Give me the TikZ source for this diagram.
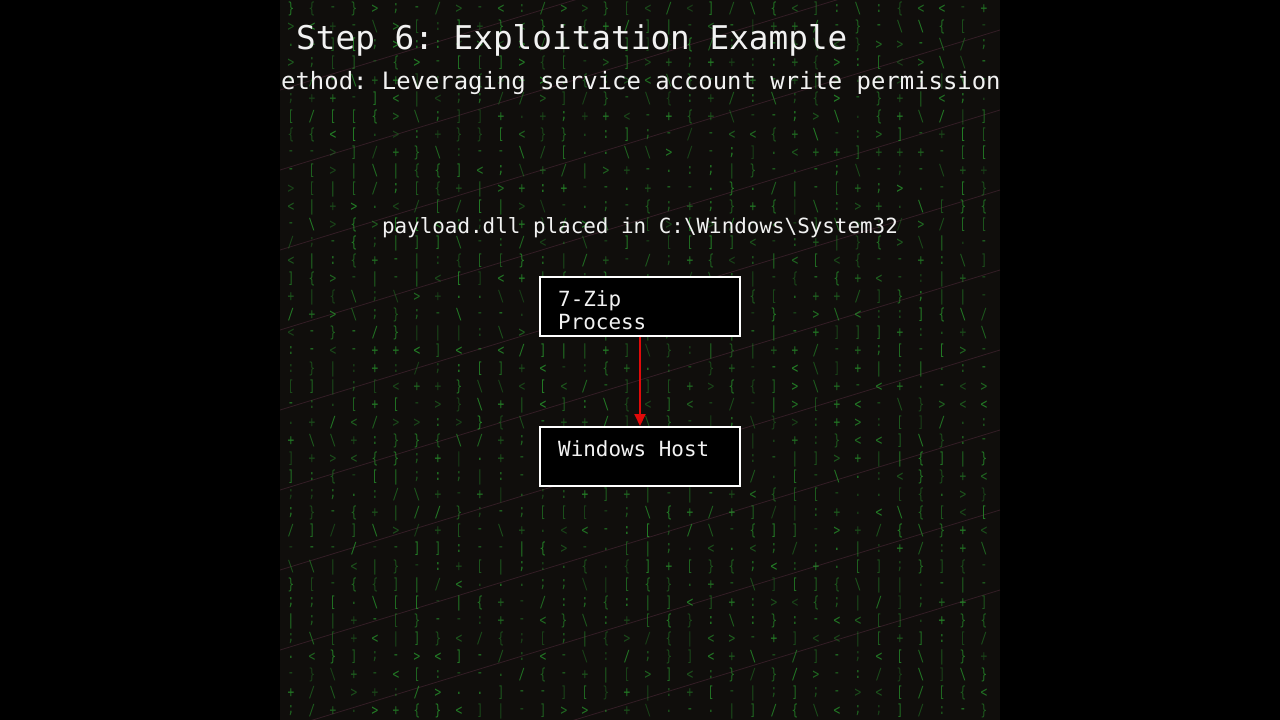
\documentclass[tikz,border=0pt]{standalone}
\usepackage{fontspec}
\setmonofont{DejaVu Sans Mono}
\usetikzlibrary{arrows.meta}
\definecolor{panelbg}{RGB}{16,14,12}
\definecolor{matrixgreen}{RGB}{40,155,45}
\definecolor{streak}{RGB}{75,40,55}
\definecolor{arrowred}{RGB}{225,10,10}
\definecolor{txtwhite}{RGB}{242,242,242}
\newcommand\mtxchar[1]{\ifcase#1 <\or >\or \{\or \}\or [\or ]\or +\or -\or /\or \textbackslash\or :\or ;\or |\or +\or .\or -\fi}
\tikzset{
  mtx/.style={text=matrixgreen, inner sep=0pt, font=\fontsize{17pt}{18pt}\selectfont\ttfamily},
  titletext/.style={text=txtwhite, inner sep=0pt, anchor=base west, font=\fontsize{32.7pt}{39pt}\selectfont\ttfamily},
  subtext/.style={text=txtwhite, inner sep=0pt, font=\fontsize{23.9pt}{28pt}\selectfont\ttfamily},
  bodytext/.style={text=txtwhite, inner sep=0pt, font=\fontsize{20.9pt}{24pt}\selectfont\ttfamily},
  procbox/.style={draw=white, line width=2pt, fill=black, minimum width=200pt, minimum height=59pt, inner sep=0pt},
  flowarrow/.style={draw=arrowred, line width=2pt, -{Triangle[length=12pt,width=11pt]}}
}
\begin{document}
\begin{tikzpicture}[x=1pt,y=-1pt]
\useasboundingbox (0,0) rectangle (1280,720);
\fill[black] (0,0) rectangle (1280,720);
\fill[panelbg] (280,0) rectangle (1000,720);
\begin{scope}
  \clip (280,0) rectangle (1000,720);
  \foreach \k in {0,...,9} {
    \draw[streak, line width=0.8pt, opacity=0.6] (280,90+80*\k) -- (1000,-130+80*\k);
  }
  \pgfmathsetseed{7}
  \foreach \i in {0,...,33} {
    \foreach \j in {0,...,39} {
      \pgfmathrandominteger{\mrand}{0}{15}
      \pgfmathrandominteger{\mop}{35}{80}
      \pgfmathsetmacro{\mopac}{\mop/100}
      \node[mtx, opacity=\mopac] (m-\i-\j) at (291+21*\i, 9+18*\j) {\scalebox{0.65}[0.9]{\mtxchar{\mrand}}};
    }
  }
\end{scope}

\node[titletext] (title) at (296,49) {Step 6: Exploitation Example};
\node[subtext, anchor=base west] (subtitle) at (281,89) {ethod: Leveraging service account write permission};
\node[bodytext, anchor=base] (payload) at (640,233) {payload.dll placed in C:\textbackslash Windows\textbackslash System32};

\node[procbox] (zip) at (640,306.5) {};
\node[bodytext, anchor=base west] (ziptext1) at (558,306) {7-Zip};
\node[bodytext, anchor=base west] (ziptext2) at (558,329.5) {Process};

\node[procbox] (host) at (640,456.5) {};
\node[bodytext, anchor=base west] (hosttext) at (558,456) {Windows Host};

\draw[flowarrow] (zip.south) -- (host.north);
\end{tikzpicture}
\end{document}
